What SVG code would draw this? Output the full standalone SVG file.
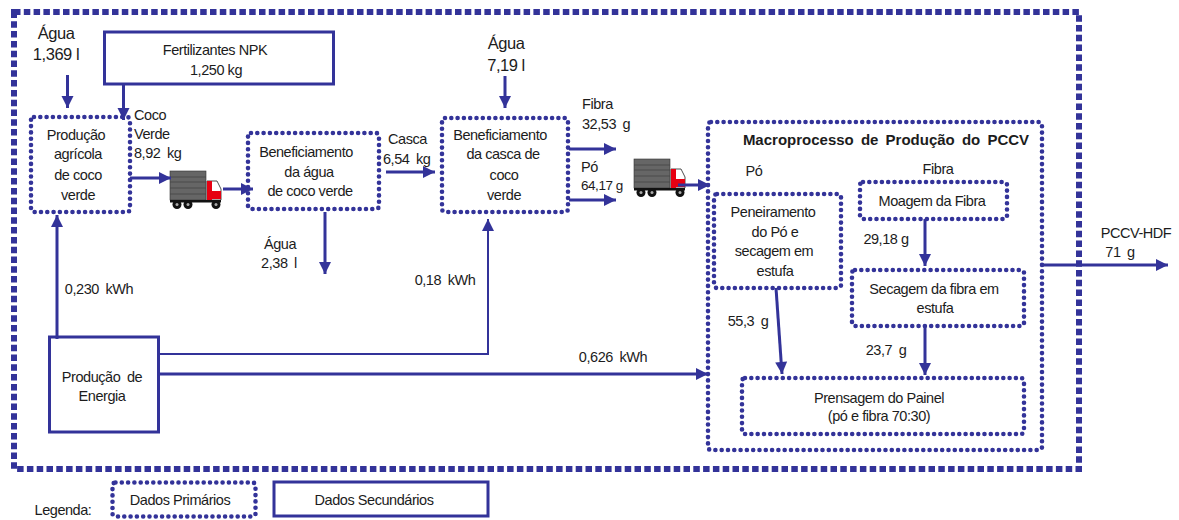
<svg xmlns="http://www.w3.org/2000/svg" width="1179" height="520" viewBox="0 0 1179 520">
<style>
text{font-family:"Liberation Sans",Arial,sans-serif;font-size:14.500px;letter-spacing:-.45px;fill:#1c1c1c;text-anchor:middle}
.l{text-anchor:start}
.big{font-size:16.500px}
.b{font-weight:bold;font-size:15px;letter-spacing:0;word-spacing:3px}
.w{word-spacing:3px}
.s{font-size:13.500px}
.dot{fill:#fff;stroke:#333399;stroke-width:4.600;stroke-linecap:round;stroke-dasharray:0 6.300}
.out{fill:none;stroke:#333399;stroke-width:6;stroke-dasharray:6.500 3.300}
.sol{fill:#fff;stroke:#333399;stroke-width:3}
.c{fill:none;stroke:#333399;stroke-width:3}
.t{stroke-width:2}
</style>
<defs>
<marker id="a" markerUnits="userSpaceOnUse" markerWidth="14" markerHeight="14" refX="12" refY="6" orient="auto" overflow="visible"><path d="M0 0L12 6L0 12Z" fill="#333399"/></marker>
<g id="truck">
<rect x="0" y="0" width="36" height="29" fill="#666" stroke="#333" stroke-width=".6"/>
<path d="M0 6H36M0 11H36M0 17H36M0 23H36" stroke="#444" stroke-width=".8"/>
<path d="M37 10H47L51 18V29H37Z" fill="#fff" stroke="#222" stroke-width=".8"/>
<rect x="37" y="10" width="5" height="19" fill="#e60012"/>
<rect x="42" y="20" width="9" height="8" fill="#e60012"/>
<rect x="0" y="29" width="51" height="2.500" fill="#111"/>
<circle cx="7" cy="33.500" r="4.500" fill="#111"/><circle cx="7" cy="33.500" r="1.500" fill="#aaa"/>
<circle cx="18" cy="33.500" r="4.500" fill="#111"/><circle cx="18" cy="33.500" r="1.500" fill="#aaa"/>
<circle cx="46" cy="33.500" r="4.500" fill="#111"/><circle cx="46" cy="33.500" r="1.500" fill="#aaa"/>
</g>
</defs>
<rect width="1179" height="520" fill="#fff"/>
<g id="sistema"><rect class="out" x="14" y="12" width="1065" height="457"/></g>
<g id="macroprocesso"><rect class="dot" x="708" y="122" width="334" height="328" rx="3"/>
<text class="b" x="886" y="145">Macroprocesso de Produção do PCCV</text></g>
<g id="producao-agricola"><rect class="dot" x="31" y="117" width="99" height="95" rx="3"/>
<text x="76" y="140">Produção</text><text x="78" y="159">agrícola</text><text x="78" y="180">de coco</text><text x="78" y="200">verde</text></g>
<g id="fertilizantes"><rect class="sol" x="104.500" y="32" width="229" height="52"/>
<text x="215" y="55">Fertilizantes NPK</text><text x="216" y="75">1,250 kg</text></g>
<g id="beneficiamento-agua"><rect class="dot" x="248" y="133" width="131" height="76" rx="3"/>
<text x="306" y="157">Beneficiamento</text><text x="309" y="177">da água</text><text x="310" y="196">de coco verde</text></g>
<g id="beneficiamento-casca"><rect class="dot" x="442" y="118" width="126" height="94" rx="3"/>
<text x="500" y="140">Beneficiamento</text><text x="503" y="159">da casca de</text><text x="504" y="180">coco</text><text x="504" y="200">verde</text></g>
<g id="energia"><rect class="sol" x="49.500" y="337" width="109" height="95"/>
<text class="w" x="102" y="382">Produção de</text><text x="102" y="401">Energia</text></g>
<g id="peneiramento"><rect class="dot" x="714" y="194" width="127" height="94" rx="3"/>
<text x="773" y="217">Peneiramento</text><text x="775" y="237">do Pó e</text><text x="774" y="256">secagem em</text><text x="775" y="276">estufa</text></g>
<g id="moagem"><rect class="dot" x="860" y="182" width="147" height="37" rx="3"/>
<text x="932" y="206">Moagem da Fibra</text></g>
<g id="secagem"><rect class="dot" x="852" y="270" width="172" height="56" rx="3"/>
<text x="934" y="294">Secagem da fibra em</text><text x="935" y="313">estufa</text></g>
<g id="prensagem"><rect class="dot" x="742" y="378" width="282" height="56" rx="3"/>
<text x="879" y="403">Prensagem do Painel</text><text x="879" y="421">(pó e fibra 70:30)</text></g>
<g id="caminhao-1"><use href="#truck" x="170" y="171"/></g>
<g id="caminhao-2"><use href="#truck" x="634" y="159"/></g>
<g id="connectors">
<path class="c" marker-end="url(#a)" d="M67.500 75V108"/>
<path class="c" marker-end="url(#a)" d="M123.500 85V120"/>
<path class="c" marker-end="url(#a)" d="M130 178H171"/>
<path class="c" marker-end="url(#a)" d="M223 189H253"/>
<path class="c" marker-end="url(#a)" d="M325 212V274"/>
<path class="c" marker-end="url(#a)" d="M386 172H435"/>
<path class="c" marker-end="url(#a)" d="M505 76V108"/>
<path class="c" marker-end="url(#a)" d="M569 149H616"/>
<path class="c" marker-end="url(#a)" d="M569 200H616"/>
<path class="c" marker-end="url(#a)" d="M678 185H710"/>
<path class="c" marker-end="url(#a)" d="M57 339V215"/>
<path class="c t" marker-end="url(#a)" d="M158 354H488V219"/>
<path class="c" marker-end="url(#a)" d="M158 374H708"/>
<path class="c" marker-end="url(#a)" d="M776 288L782 374"/>
<path class="c" marker-end="url(#a)" d="M925 219V266"/>
<path class="c" marker-end="url(#a)" d="M925 326V375"/>
<path class="c" marker-end="url(#a)" d="M1042 265H1168"/>
</g>
<g id="rotulos">
<text class="big" x="56" y="39">Água</text><text class="big" x="56" y="60">1,369 l</text>
<text class="l" x="134" y="120">Coco</text><text class="l" x="134" y="139">Verde</text><text class="l w" x="134" y="158">8,92 kg</text>
<text x="280" y="249">Água</text><text class="w" x="279" y="268">2,38 l</text>
<text class="l" x="388" y="144">Casca</text><text class="l w" x="383" y="164">6,54 kg</text>
<text class="big" x="506" y="49">Água</text><text class="big" x="506" y="71">7,19 l</text>
<text class="l" x="582" y="109">Fibra</text><text class="l w" x="582" y="129">32,53 g</text>
<text class="l" x="581" y="172">Pó</text><text class="l s" x="581" y="190">64,17 g</text>
<text x="754" y="176">Pó</text><text x="938" y="174">Fibra</text>
<text class="w" x="99" y="294">0,230 kWh</text><text class="w" x="445" y="285">0,18 kWh</text><text class="w" x="613" y="362">0,626 kWh</text>
<text class="w" x="748" y="326">55,3 g</text><text x="886" y="244">29,18 g</text><text class="w" x="886" y="355">23,7 g</text>
<text x="1136" y="238">PCCV-HDF</text><text class="w" x="1120" y="257">71 g</text>
</g>
<g id="legenda"><text x="63" y="515">Legenda:</text>
<g id="legenda-primarios"><rect class="dot" x="112.500" y="482.500" width="143" height="34" rx="3"/><text x="180" y="505">Dados Primários</text></g>
<g id="legenda-secundarios"><rect class="sol" x="274" y="482" width="214" height="34"/><text x="374" y="505">Dados Secundários</text></g>
</g>
</svg>
